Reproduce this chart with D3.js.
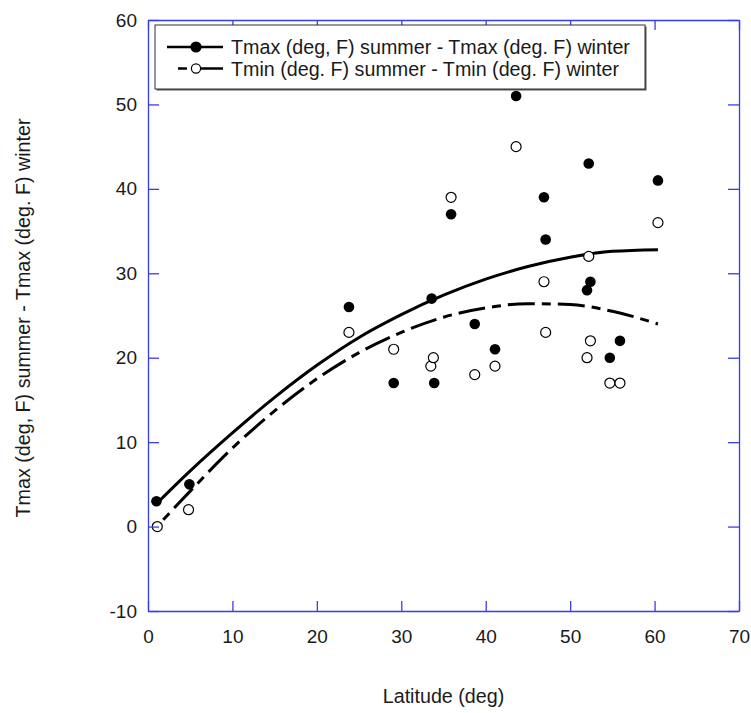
<!DOCTYPE html>
<html>
<head>
<meta charset="utf-8">
<script src="https://cdnjs.cloudflare.com/ajax/libs/d3/7.8.5/d3.min.js"></script>
<style>
  body { margin: 0; background: #ffffff; }
  svg text { font-family: Arial, "Liberation Sans", sans-serif; fill: #1a1a1a; }
  .axis path, .axis line { stroke: #3b3bee; stroke-width: 1.3px; }
  .fit { fill: none; stroke: #000; stroke-width: 3px; }
</style>
</head>
<body>
<div id="chart"></div>
<script>

// station latitudes and summer-winter differences (deg F)
var tmaxLat  = [1.0, 4.9, 23.8, 29.1, 33.6, 33.9, 35.9, 38.7, 41.1, 43.6, 46.9, 47.1, 52.0, 52.2, 52.4, 54.7, 55.9, 60.4];
var tmaxDiff = [3,   5,   26,   17,   27,   17,   37,   24,   21,   51,   39,   34,   28,   43,   29,   20,   22,   41];
var tminLat  = [1.1, 4.8, 23.8, 29.1, 33.5, 33.8, 35.9, 38.7, 41.1, 43.6, 46.9, 47.1, 52.0, 52.2, 52.4, 54.7, 55.9, 60.4];
var tminDiff = [0,   2,   23,   21,   19,   20,   39,   18,   19,   45,   29,   23,   20,   32,   22,   17,   17,   36];

// fitted curves
var tmaxFitLat = [1.0, 5, 10, 15, 20, 25, 30, 35, 40, 45, 50, 55, 60.4];
var tmaxFit    = [2.7, 6.6, 11.1, 15.3, 19.1, 22.4, 25.1, 27.4, 29.3, 30.8, 31.9, 32.6, 32.8];
var tminFitLat = [1.8, 5, 10, 15, 20, 25, 30, 35, 40, 45, 50, 55, 60.4];
var tminFit    = [0.8, 4.2, 9.3, 13.7, 17.5, 20.6, 23.0, 24.8, 25.9, 26.4, 26.3, 25.5, 24.0];

var xTicks = [0, 10, 20, 30, 40, 50, 60, 70];
var yTicks = [-10, 0, 10, 20, 30, 40, 50, 60];

var legendNames = ["Tmax (deg, F) summer - Tmax (deg. F) winter",
                   "Tmin (deg. F) summer - Tmin (deg. F) winter"];
var xTitle = "Latitude (deg)";
var yTitle = "Tmax (deg, F) summer - Tmax (deg. F) winter";

/**
 * Constructor for the latitude scatter chart
 */
function LatitudeChart(){
    var self = this;
    self.init();
};

/**
 * Sets up the svg, scales and plot group
 */
LatitudeChart.prototype.init = function(){
    var self = this;
    self.margin = {top: 20, right: 12, bottom: 102, left: 148};
    self.width = 751 - self.margin.left - self.margin.right;
    self.height = 713 - self.margin.top - self.margin.bottom;

    self.svg = d3.select("#chart").append("svg")
        .attr("width", 751)
        .attr("height", 713);

    self.plot = self.svg.append("g")
        .attr("transform", "translate(" + self.margin.left + "," + self.margin.top + ")");

    self.x = d3.scaleLinear().domain([0, 70]).range([0, self.width]);
    self.y = d3.scaleLinear().domain([-10, 60]).range([self.height, 0]);
};

/**
 * Draws the fitted curves, the points, the axes and the legend
 */
LatitudeChart.prototype.update = function(){
    var self = this;
    var dash = "9,7,27,7";
    var plainNum = function(d){ return String(d); };

    function toPairs(xs, ys){
        return xs.map(function(d, i){ return [d, ys[i]]; });
    }

    var line = d3.line()
        .x(function(d){ return self.x(d[0]); })
        .y(function(d){ return self.y(d[1]); })
        .curve(d3.curveMonotoneX);

    self.plot.append("path").attr("class", "fit")
        .attr("d", line(toPairs(tmaxFitLat, tmaxFit)));

    self.plot.append("path").attr("class", "fit")
        .attr("stroke-dasharray", dash)
        .attr("d", line(toPairs(tminFitLat, tminFit)));

    self.plot.selectAll("circle.tmin")
        .data(toPairs(tminLat, tminDiff))
        .enter().append("circle")
        .attr("class", "tmin")
        .attr("cx", function(d){ return self.x(d[0]); })
        .attr("cy", function(d){ return self.y(d[1]); })
        .attr("r", 5)
        .attr("fill", "#fff")
        .attr("stroke", "#000")
        .attr("stroke-width", 1.2);

    self.plot.selectAll("circle.tmax")
        .data(toPairs(tmaxLat, tmaxDiff))
        .enter().append("circle")
        .attr("class", "tmax")
        .attr("cx", function(d){ return self.x(d[0]); })
        .attr("cy", function(d){ return self.y(d[1]); })
        .attr("r", 5.3)
        .attr("fill", "#000");

    // axes, ticks pointing inward on all four sides
    self.plot.append("g").attr("class", "axis")
        .attr("transform", "translate(0," + self.height + ")")
        .call(d3.axisBottom(self.x).tickValues(xTicks).tickFormat(plainNum)
              .tickSizeInner(-10).tickSizeOuter(0).tickPadding(19))
        .selectAll("text").style("font-size", "19px");

    self.plot.append("g").attr("class", "axis")
        .call(d3.axisLeft(self.y).tickValues(yTicks).tickFormat(plainNum)
              .tickSizeInner(-11).tickSizeOuter(0).tickPadding(11))
        .selectAll("text").style("font-size", "19px");

    self.plot.append("g").attr("class", "axis")
        .call(d3.axisTop(self.x).tickValues(xTicks).tickSizeInner(-10).tickSizeOuter(0).tickFormat(""));

    self.plot.append("g").attr("class", "axis")
        .attr("transform", "translate(" + self.width + ",0)")
        .call(d3.axisRight(self.y).tickValues(yTicks).tickSizeInner(-11).tickSizeOuter(0).tickFormat(""));

    self.plot.selectAll(".axis text").attr("fill", "#1a1a1a");

    // axis titles
    self.svg.append("text")
        .attr("x", self.margin.left + self.x(35))
        .attr("y", 703)
        .attr("text-anchor", "middle")
        .style("font-size", "19.7px")
        .text(xTitle);

    self.svg.append("text")
        .attr("transform", "translate(30," + 318 + ") rotate(-90)")
        .attr("text-anchor", "middle")
        .style("font-size", "19.7px")
        .text(yTitle);

    // legend box with a small drop shadow
    var legend = self.svg.append("g").attr("transform", "translate(155,25)");
    legend.append("rect")
        .attr("x", 1.5).attr("y", 1.5)
        .attr("width", 490).attr("height", 64)
        .attr("fill", "#555");
    legend.append("rect")
        .attr("width", 490).attr("height", 64)
        .attr("fill", "#fff")
        .attr("stroke", "#333")
        .attr("stroke-width", 1);

    var rows = legend.selectAll("g.row")
        .data(legendNames)
        .enter().append("g")
        .attr("class", "row")
        .attr("transform", function(d, i){ return "translate(0," + (22 + i * 21.5) + ")"; });

    rows.append("line")
        .attr("x1", function(d, i){ return i == 0 ? 12 : 23; })
        .attr("x2", 68)
        .attr("stroke", "#000")
        .attr("stroke-width", 2.6)
        .attr("stroke-dasharray", function(d, i){ return i == 0 ? null : "9,6,40"; });

    rows.append("circle")
        .attr("cx", 41)
        .attr("r", function(d, i){ return i == 0 ? 5 : 4.6; })
        .attr("fill", function(d, i){ return i == 0 ? "#000" : "#fff"; })
        .attr("stroke", "#000")
        .attr("stroke-width", 1.2);

    rows.append("text")
        .attr("x", 76)
        .attr("dy", "0.36em")
        .style("font-size", "19.7px")
        .text(function(d){ return d; });
};

var chart = new LatitudeChart();
chart.update();

</script>
</body>
</html>
